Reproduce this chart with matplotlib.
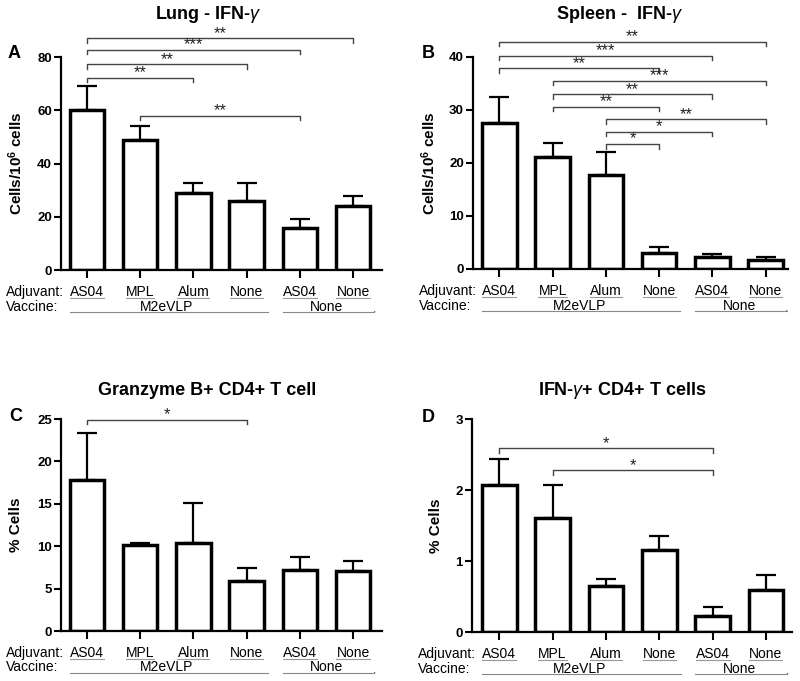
import matplotlib
matplotlib.use('Agg')
import matplotlib.pyplot as plt
from matplotlib import transforms
from matplotlib.lines import Line2D

plt.rcParams['font.family'] = ['Liberation Sans', 'DejaVu Sans']
plt.rcParams['mathtext.fontset'] = 'custom'
plt.rcParams['mathtext.rm'] = 'Liberation Sans'
plt.rcParams['mathtext.it'] = 'Liberation Sans:italic'
plt.rcParams['mathtext.bf'] = 'Liberation Sans:bold'

# groups on the x axis
adjuvants = ['AS04', 'MPL', 'Alum', 'None', 'AS04', 'None']
vaccine_groups = [('M2eVLP', 0, 3), ('None', 4, 5)]

# A - lung IFN-g
lung_mean = [60.0, 49.0, 29.0, 26.0, 15.8, 24.2]
lung_err = [9.2, 5.1, 3.8, 6.8, 3.4, 3.6]
lung_sig = [(0, 5, '**', 87.1), (0, 4, '***', 82.7), (0, 3, '**', 77.3),
            (0, 2, '**', 72.3), (1, 4, '**', 57.9)]

# B - spleen IFN-g
spleen_mean = [27.5, 21.1, 17.7, 3.0, 2.3, 1.7]
spleen_err = [4.9, 2.6, 4.4, 1.1, 0.6, 0.6]
spleen_sig = [(0, 5, '**', 42.8), (0, 4, '***', 40.1), (0, 3, '**', 37.8),
              (1, 5, '***', 35.4), (1, 4, '**', 32.9), (1, 3, '**', 30.6),
              (2, 5, '**', 28.2), (2, 4, '*', 25.9), (2, 3, '*', 23.5)]

# C - granzyme B+ CD4+
gzmb_mean = [17.8, 10.2, 10.4, 5.9, 7.2, 7.1]
gzmb_err = [5.6, 0.2, 4.7, 1.5, 1.5, 1.2]
gzmb_sig = [(0, 3, '*', 24.9)]

# D - IFN-g+ CD4+
ifn_mean = [2.07, 1.61, 0.65, 1.16, 0.23, 0.60]
ifn_err = [0.37, 0.46, 0.10, 0.20, 0.12, 0.21]
ifn_sig = [(0, 4, '*', 2.59), (1, 4, '*', 2.28)]

panels = [
    dict(letter='A', title='Lung - IFN-$\\gamma$', mean=lung_mean, err=lung_err, sig=lung_sig,
         ylabel='Cells/10$^{\\mathbf{6}}$ cells', ylim=(0, 80), yticks=[0, 20, 40, 60, 80],
         rect=[0.076, 0.6035, 0.4013, 0.3124], xlim=(-0.49, 5.54),
         title_xy=(0.261, 0.978), letter_xy=(0.0175, 0.921), ylab_x=-0.112),
    dict(letter='B', title='Spleen -  IFN-$\\gamma$', mean=spleen_mean, err=spleen_err, sig=spleen_sig,
         ylabel='Cells/10$^{\\mathbf{6}}$ cells', ylim=(0, 40), yticks=[0, 10, 20, 30, 40],
         rect=[0.591, 0.605, 0.394, 0.3117], xlim=(-0.5, 5.42),
         title_xy=(0.774, 0.978), letter_xy=(0.535, 0.921), ylab_x=-0.110),
    dict(letter='C', title='Granzyme B+ CD4+ T cell', mean=gzmb_mean, err=gzmb_err, sig=gzmb_sig,
         ylabel='% Cells', ylim=(0, 25), yticks=[0, 5, 10, 15, 20, 25],
         rect=[0.076, 0.0734, 0.4013, 0.3113], xlim=(-0.49, 5.54),
         title_xy=(0.259, 0.427), letter_xy=(0.0196, 0.389), ylab_x=-0.118),
    dict(letter='D', title='IFN-$\\gamma$+ CD4+ T cells', mean=ifn_mean, err=ifn_err, sig=ifn_sig,
         ylabel='% Cells', ylim=(0, 3), yticks=[0, 1, 2, 3],
         rect=[0.590, 0.0715, 0.400, 0.3128], xlim=(-0.51, 5.49),
         title_xy=(0.778, 0.426), letter_xy=(0.535, 0.387), ylab_x=-0.09),
]

fig = plt.figure(figsize=(8, 6.81), dpi=100)
underline_texts = []

for p in panels:
    ax = fig.add_axes(p['rect'])
    x = list(range(len(adjuvants)))
    ax.errorbar(x, p['mean'], yerr=[[0] * len(x), p['err']], fmt='none', ecolor='black',
                elinewidth=1.6, capsize=7, capthick=1.6, zorder=1)
    ax.bar(x, p['mean'], width=0.65, color='white', edgecolor='black', linewidth=2.5, zorder=2)

    ax.set_xlim(*p['xlim'])
    ax.set_ylim(*p['ylim'])
    ax.set_yticks(p['yticks'])
    ax.set_xticks(x)
    ax.set_xticklabels([])
    for lab in ax.get_yticklabels():
        lab.set_fontweight('bold')
    ax.tick_params(axis='y', labelsize=9.5, width=1.5, length=5, pad=1.5)
    ax.tick_params(axis='x', width=1.5, length=6)
    for s in ['top', 'right']:
        ax.spines[s].set_visible(False)
    for s in ['left', 'bottom']:
        ax.spines[s].set_linewidth(1.6)
    ax.set_ylabel(p['ylabel'], fontsize=11, fontweight='bold')
    ax.yaxis.set_label_coords(p['ylab_x'], 0.5)

    # significance brackets
    ymax = p['ylim'][1]
    drop = 0.02 * ymax
    for i, j, stars, yb in p['sig']:
        ax.plot([i, i, j, j], [yb - drop, yb, yb, yb - drop], color='#444444', lw=1.0,
                clip_on=False, zorder=3)
        ax.annotate(stars, xy=((i + j) / 2, yb), xytext=(0, 0.5), textcoords='offset points',
                    ha='center', va='baseline', fontsize=12, color='#222222',
                    annotation_clip=False)

    # group labels under the axis
    tr = transforms.blended_transform_factory(ax.transData, ax.transAxes)
    ax.text(-0.17, -0.102, 'Adjuvant:', transform=ax.transAxes, ha='left', va='center', fontsize=10)
    ax.text(-0.17, -0.172, 'Vaccine:', transform=ax.transAxes, ha='left', va='center', fontsize=10)
    for xi, name in zip(x, adjuvants):
        t = ax.text(xi, -0.102, name, transform=tr, ha='center', va='center', fontsize=10)
        underline_texts.append((ax, t))
    for name, a, b in vaccine_groups:
        ax.text((a + b) / 2, -0.172, name, transform=tr, ha='center', va='center', fontsize=10)
        ax.add_line(Line2D([a - 0.32, b + 0.4], [-0.197, -0.197], transform=tr, color='#888888',
                           lw=0.8, clip_on=False))
    ax.text(vaccine_groups[-1][2] + 0.4, -0.197, '.', transform=tr, ha='center', va='baseline',
            fontsize=9, color='#444444')

    fig.text(p['title_xy'][0], p['title_xy'][1], p['title'], ha='center', va='center',
             fontsize=13, fontweight='bold')
    fig.text(p['letter_xy'][0], p['letter_xy'][1], p['letter'], ha='center', va='center',
             fontsize=13, fontweight='bold')

# underline the adjuvant names
fig.canvas.draw()
renderer = fig.canvas.get_renderer()
inv = fig.transFigure.inverted()
for ax, t in underline_texts:
    bb = t.get_window_extent(renderer)
    (x0, y0), (x1, y1) = inv.transform([(bb.x0, bb.y0), (bb.x1, bb.y1)])
    fig.add_artist(Line2D([x0, x1], [y0 + 0.001, y0 + 0.001], transform=fig.transFigure,
                          color='#999999', lw=0.8))

plt.savefig('out.png', dpi=100)
